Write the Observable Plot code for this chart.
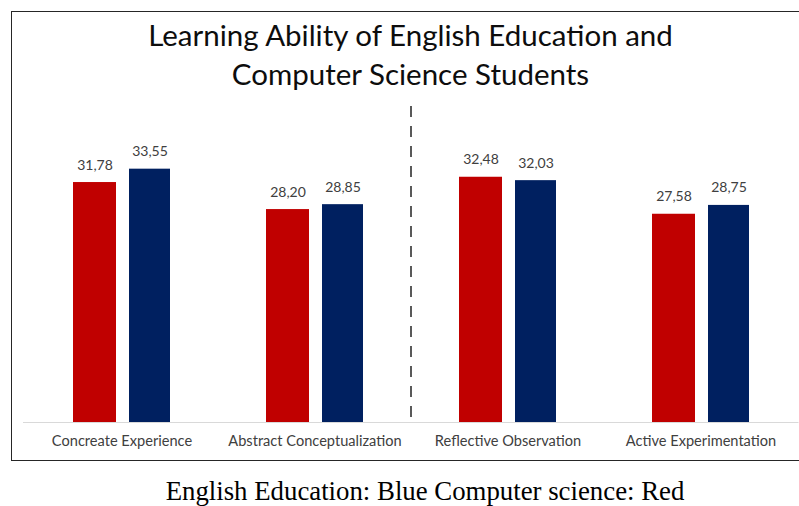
<!DOCTYPE html>
<html>
<head>
<meta charset="utf-8">
<script src="https://cdn.jsdelivr.net/npm/d3@7"></script>
<script src="https://cdn.jsdelivr.net/npm/@observablehq/plot@0.6"></script>
<style>
  html, body { margin: 0; padding: 0; background: #fff; }
  #wrap { position: relative; width: 799px; height: 506px; overflow: hidden; }
  #frame { position: absolute; left: 11px; top: 11px; width: 820px; height: 448px; border: 1.6px solid #262626; box-sizing: content-box; }
  #title { position: absolute; left: 11px; width: 799px; top: 15px; text-align: center; font-family: Lato, sans-serif; font-size: 29.5px; line-height: 39px; color: #0d0d0d; z-index: 2; }
  #chart { position: absolute; left: 0; top: 0; z-index: 1; }
  #caption { position: absolute; left: 0; width: 850px; top: 476px; text-align: center; font-family: "Liberation Serif", "Times New Roman", serif; font-size: 26.8px; line-height: 30px; color: #000; }
</style>
</head>
<body>
<div id="wrap">
  <div id="frame"></div>
  <div id="chart"></div>
  <div id="title">Learning Ability of English Education and<br>Computer Science Students</div>
  <div id="caption">English Education: Blue Computer science: Red</div>
</div>
<script>
const categories = ["Concreate Experience", "Abstract Conceptualization", "Reflective Observation", "Active Experimentation"];
const computerScience = [31.78, 28.20, 32.48, 27.58];   // red
const englishEducation = [33.55, 28.85, 32.03, 28.75];  // blue

const redData = categories.map((c, i) => ({category: c, value: computerScience[i]}));
const blueData = categories.map((c, i) => ({category: c, value: englishEducation[i]}));
const fmt = d => d.value.toFixed(2).replace(".", ",");

const chart = Plot.plot({
  width: 799,
  height: 462,
  marginLeft: 23,
  marginRight: 0.5,
  marginTop: 106,
  marginBottom: 40,
  style: {background: "transparent", fontFamily: "Lato, sans-serif", fontSize: "14px", color: "#404040"},
  x: {domain: categories, padding: 0, axis: null},
  y: {domain: [0, 41.85], axis: null},
  marks: [
    Plot.ruleX([categories[1]], {stroke: "#595959", strokeWidth: 2, strokeDasharray: "11,9", dx: 96}),
    Plot.barY(redData, {x: "category", y: "value", fill: "#C00000", insetLeft: 48, insetRight: 102}),
    Plot.barY(blueData, {x: "category", y: "value", fill: "#002060", insetLeft: 104, insetRight: 48}),
    Plot.text(redData, {x: "category", y: "value", text: fmt, dx: -27, dy: -13, lineAnchor: "bottom", fill: "#404040", fontSize: 14}),
    Plot.text(blueData, {x: "category", y: "value", text: fmt, dx: 28, dy: -13, lineAnchor: "bottom", fill: "#404040", fontSize: 14}),
    Plot.ruleY([0], {stroke: "#d9d9d9", strokeWidth: 1.2}),
    Plot.axisX({tickSize: 0, tickPadding: 13, fontSize: 14.6, fill: "#404040", label: null})
  ]
});
document.getElementById("chart").appendChild(chart);
</script>
</body>
</html>
